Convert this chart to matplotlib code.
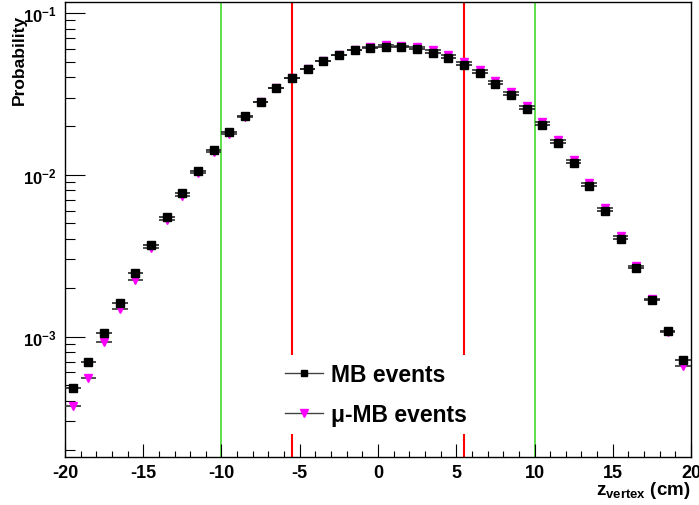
import matplotlib
matplotlib.use("Agg")
import matplotlib.pyplot as plt
from matplotlib.lines import Line2D
from matplotlib.ticker import MultipleLocator, FixedLocator, LogLocator, NullFormatter

plt.rcParams['font.family'] = ['Liberation Sans', 'DejaVu Sans']
plt.rcParams['mathtext.fontset'] = 'custom'
plt.rcParams['mathtext.rm'] = 'Liberation Sans:bold'
plt.rcParams['mathtext.bf'] = 'Liberation Sans:bold'
plt.rcParams['mathtext.it'] = 'Liberation Sans:bold'

zvertex = [-19.5, -18.5, -17.5, -16.5, -15.5, -14.5, -13.5, -12.5, -11.5, -10.5,
           -9.5, -8.5, -7.5, -6.5, -5.5, -4.5, -3.5, -2.5, -1.5, -0.5,
           0.5, 1.5, 2.5, 3.5, 4.5, 5.5, 6.5, 7.5, 8.5, 9.5,
           10.5, 11.5, 12.5, 13.5, 14.5, 15.5, 16.5, 17.5, 18.5, 19.5]

mb_events = [4.84e-4, 6.97e-4, 1.045e-3, 1.616e-3, 2.456e-3, 3.69e-3, 5.45e-3, 7.70e-3, 1.049e-2, 1.428e-2,
             1.836e-2, 2.297e-2, 2.828e-2, 3.422e-2, 3.947e-2, 4.505e-2, 5.048e-2, 5.498e-2, 5.877e-2, 6.10e-2,
             6.19e-2, 6.19e-2, 5.99e-2, 5.68e-2, 5.27e-2, 4.755e-2, 4.243e-2, 3.654e-2, 3.11e-2, 2.538e-2,
             2.02e-2, 1.570e-2, 1.176e-2, 8.55e-3, 5.94e-3, 4.02e-3, 2.65e-3, 1.68e-3, 1.075e-3, 7.12e-4]

mu_mb_events = [3.73e-4, 5.58e-4, 9.27e-4, 1.477e-3, 2.241e-3, 3.51e-3, 5.22e-3, 7.38e-3, 1.020e-2, 1.378e-2,
                1.797e-2, 2.265e-2, 2.81e-2, 3.42e-2, 3.95e-2, 4.52e-2, 5.07e-2, 5.53e-2, 5.92e-2, 6.15e-2,
                6.32e-2, 6.23e-2, 6.16e-2, 5.89e-2, 5.50e-2, 4.96e-2, 4.43e-2, 3.81e-2, 3.245e-2, 2.65e-2,
                2.109e-2, 1.639e-2, 1.227e-2, 8.86e-3, 6.20e-3, 4.17e-3, 2.73e-3, 1.715e-3, 1.06e-3, 6.53e-4]

bin_half_width = 0.5
tight_cut = [-5.5, 5.5]
loose_cut = [-10, 10]
labels = ["MB events", "μ-MB events"]

fig = plt.figure(figsize=(6.99, 5.06), dpi=100)
ax = fig.add_axes([65/699, 1-458/506, (691-65)/699, (458-3)/506])

for c in loose_cut:
    ax.axvline(c, color='#50dc3c', lw=1.3, zorder=1)
for c in tight_cut:
    ax.axvline(c, color='#ff0000', lw=1.5, zorder=1)

ax.errorbar(zvertex, mu_mb_events, xerr=bin_half_width, fmt='v', color='#ff00ff',
            ecolor='#333333', elinewidth=1.2, ms=6, mec='#ff00ff', capsize=0, zorder=3)
ax.errorbar(zvertex, mb_events, xerr=bin_half_width, fmt='s', color='black',
            ecolor='#222222', elinewidth=1.2, ms=5.8, mec='black', capsize=0, zorder=4)

ax.set_yscale('log')
ax.set_xlim(-20, 20)
ax.set_ylim(1.8e-4, 0.117)

ax.xaxis.set_major_locator(MultipleLocator(5))
ax.xaxis.set_minor_locator(MultipleLocator(1))
ax.yaxis.set_major_locator(FixedLocator([1e-3, 1e-2, 1e-1]))
ax.yaxis.set_minor_locator(LogLocator(base=10, subs=range(2, 10), numticks=20))
ax.yaxis.set_minor_formatter(NullFormatter())
ax.set_yticklabels([r'$10^{-3}$', r'$10^{-2}$', r'$10^{-1}$'])
ax.set_xticks([-20, -15, -10, -5, 0, 5, 10, 15, 20])
ax.set_xticklabels(['-20', '-15', '-10', '-5', '0', '5', '10', '15', '20'])

ax.tick_params(axis='x', which='major', direction='in', length=9.4, width=0.8,
               labelsize=13, pad=5, top=False)
ax.tick_params(axis='x', which='minor', direction='in', length=4.3, width=0.8, top=False)
ax.tick_params(axis='y', which='major', direction='in', length=14.4, width=0.8,
               labelsize=12, pad=6, right=False)
ax.tick_params(axis='y', which='minor', direction='in', length=7.2, width=0.8, right=False)
for lab in ax.get_xticklabels() + ax.get_yticklabels():
    lab.set_fontweight('bold')
for sp in ax.spines.values():
    sp.set_linewidth(1.0)

fig.text(19/699, 1-60/506, 'Probability', rotation=90, ha='center', va='center',
         fontsize=12.5, fontweight='bold')
fig.text(691/699, 1-491/506, r'$\mathbf{z_{vertex}}$ (cm)', ha='right', va='center',
         fontsize=13.5, fontweight='bold')

handles = [
    Line2D([], [], color='#444444', lw=1.0, marker='s', ms=5, mfc='black', mec='black'),
    Line2D([], [], color='#444444', lw=1.0, marker='v', ms=5.5, mfc='#ff00ff', mec='#ff00ff'),
]
leg = ax.legend(handles, labels, loc='upper left',
                bbox_to_anchor=(277/699, 1-356/506), bbox_transform=fig.transFigure,
                frameon=True, facecolor='white', edgecolor='none', framealpha=1,
                fancybox=False, prop={'weight': 'bold', 'size': 16.5}, handlelength=1.66,
                handletextpad=0.35, labelspacing=0.72, borderpad=0.35, borderaxespad=0)
leg.set_zorder(5)

fig.savefig('out.png', dpi=100)
